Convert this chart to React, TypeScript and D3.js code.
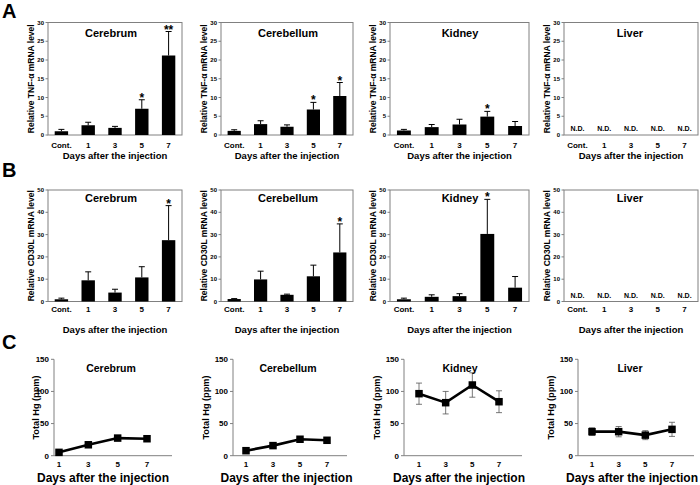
import * as d3 from "d3";
import * as React from "react";

const FONT = "'Liberation Sans', Arial, Helvetica, sans-serif";

const categories = ["Cont.", "1", "3", "5", "7"];
const days = ["1", "3", "5", "7"];
const tissues = ["Cerebrum", "Cerebellum", "Kidney", "Liver"];

// A: relative TNF-α mRNA
const tnfCerebrum = [1.0, 2.6, 1.9, 7.0, 21.2];
const tnfCerebrumErr = [0.5, 0.8, 0.4, 2.4, 6.4];
const tnfCerebrumSig = ["", "", "", "*", "**"];
const tnfCerebellum = [1.1, 2.9, 2.2, 6.8, 10.4];
const tnfCerebellumErr = [0.3, 0.9, 0.5, 1.9, 3.6];
const tnfCerebellumSig = ["", "", "", "*", "*"];
const tnfKidney = [1.2, 2.1, 2.8, 4.9, 2.4];
const tnfKidneyErr = [0.3, 0.7, 1.4, 1.4, 1.2];
const tnfKidneySig = ["", "", "", "*", ""];
const tnfLiver: (number | null)[] = [null, null, null, null, null];

// B: relative CD30L mRNA
const cd30Cerebrum = [1.0, 9.5, 4.0, 10.8, 27.5];
const cd30CerebrumErr = [0.5, 3.8, 1.5, 4.8, 15.5];
const cd30CerebrumSig = ["", "", "", "", "*"];
const cd30Cerebellum = [1.1, 9.9, 3.0, 11.3, 22.0];
const cd30CerebellumErr = [0.2, 3.7, 0.3, 5.0, 12.8];
const cd30CerebellumSig = ["", "", "", "", "*"];
const cd30Kidney = [1.0, 2.1, 2.4, 30.3, 6.2];
const cd30KidneyErr = [0.5, 0.9, 1.1, 15.5, 5.0];
const cd30KidneySig = ["", "", "", "*", ""];
const cd30Liver: (number | null)[] = [null, null, null, null, null];

// C: total Hg (ppm)
const hgCerebrum = [5.2, 17.0, 27.4, 26.4];
const hgCerebrumErr = [1.5, 2.0, 3.0, 2.0];
const hgCerebellum = [7.8, 15.7, 25.6, 24.0];
const hgCerebellumErr = [1.5, 2.0, 3.0, 2.0];
const hgKidney = [96.5, 82.5, 110, 84];
const hgKidneyErr = [16.5, 17.5, 19, 17];
const hgLiver = [37.4, 37.4, 32, 41];
const hgLiverErr = [6, 8, 7, 11];

const tnfTicks = [0, 5, 10, 15, 20, 25, 30];
const cd30Ticks = [0, 10, 20, 30, 40, 50];
const hgTicks = [0, 50, 100, 150];

// layout
const colLeft = [48, 221, 390, 564];
const colRight = [182, 353, 529, 698];
const titleX = [111, 288, 460, 630];
const cAxis = [54, 233, 404, 578];
const cFirst = [59, 246, 419, 592];
const cLast = [147, 327, 499, 672];
const cEnd = [172, 347, 522, 694];
const cLabelX = [36, 206, 377, 551];

const GRAY = "#808080";

interface BarRow {
  top: number;
  bottom: number;
  ticks: number[];
  yLabel: string;
  tickDy: number;
  titleDy: number;
  xTitleDy: number;
}

function BarPanel({
  col,
  row,
  values,
  errors,
  sig,
}: {
  col: number;
  row: BarRow;
  values: (number | null)[];
  errors?: number[];
  sig?: string[];
}) {
  const left = colLeft[col];
  const right = colRight[col];
  const { top, bottom, ticks } = row;
  const x = d3.scaleBand(categories, [left, right]).paddingInner(0.5).paddingOuter(0.25);
  const y = d3.scaleLinear([0, ticks[ticks.length - 1]], [bottom, top]);
  const bw = x.bandwidth();
  return (
    <g fontFamily={FONT} fontWeight="bold">
      <rect x={left} y={top} width={right - left} height={bottom - top} fill="none" stroke={GRAY} strokeWidth={1} />
      {ticks.map((t) => (
        <g key={t}>
          <line x1={left - 2.5} x2={left} y1={y(t)} y2={y(t)} stroke={GRAY} />
          <text x={left - 4} y={y(t)} dy="0.35em" fontSize={6} textAnchor="end">
            {t}
          </text>
        </g>
      ))}
      {values.map((v, i) => {
        const cx = (x(categories[i]) ?? 0) + bw / 2;
        if (v == null) {
          return (
            <text key={i} x={cx} y={bottom - 4} fontSize={7} textAnchor="middle">
              N.D.
            </text>
          );
        }
        const e = errors ? errors[i] : 0;
        const yt = y(v + e);
        return (
          <g key={i}>
            <line x1={cx} x2={cx} y1={y(v)} y2={yt} stroke="#000" strokeWidth={1} />
            <line x1={cx - 3} x2={cx + 3} y1={yt} y2={yt} stroke="#000" strokeWidth={1} />
            <rect x={cx - bw / 2} y={y(v)} width={bw} height={bottom - y(v)} fill="#000" />
            {sig && sig[i] ? (
              <text x={cx} y={yt + 2} fontSize={12} textAnchor="middle">
                {sig[i]}
              </text>
            ) : null}
          </g>
        );
      })}
      {categories.map((c) => (
        <text key={c} x={(x(c) ?? 0) + bw / 2} y={bottom + row.tickDy} fontSize={8} textAnchor="middle">
          {c}
        </text>
      ))}
      <text x={(left + right) / 2} y={bottom + row.xTitleDy} fontSize={9.5} textAnchor="middle">
        Days after the injection
      </text>
      <text x={titleX[col]} y={top + row.titleDy} fontSize={11} textAnchor="middle">
        {tissues[col]}
      </text>
      <text
        transform={`translate(${left - 17},${(top + bottom) / 2}) rotate(-90)`}
        dy="0.35em"
        fontSize={8.5}
        textAnchor="middle"
      >
        {row.yLabel}
      </text>
    </g>
  );
}

function LinePanel({ col, values, errors }: { col: number; values: number[]; errors: number[] }) {
  const top = 359.3;
  const bottom = 455.7;
  const x = d3.scalePoint(days, [cFirst[col], cLast[col]]);
  const y = d3.scaleLinear([0, 150], [bottom, top]);
  const line = d3
    .line<number>()
    .x((_, i) => x(days[i]) ?? 0)
    .y((d) => y(d));
  const ax = cAxis[col];
  const m = 7.5;
  return (
    <g fontFamily={FONT} fontWeight="bold">
      <line x1={ax} x2={ax} y1={top} y2={bottom} stroke={GRAY} />
      <line x1={ax} x2={cEnd[col]} y1={bottom} y2={bottom} stroke={GRAY} />
      {hgTicks.map((t) => (
        <g key={t}>
          <line x1={ax - 3} x2={ax} y1={y(t)} y2={y(t)} stroke={GRAY} />
          <text x={ax - 5} y={y(t)} dy="0.35em" fontSize={8} textAnchor="end">
            {t}
          </text>
        </g>
      ))}
      {values.map((v, i) => {
        const cx = x(days[i]) ?? 0;
        const e = errors[i];
        return (
          <g key={i} stroke="#555" strokeWidth={0.8}>
            <line x1={cx} x2={cx} y1={y(v + e)} y2={y(v - e)} />
            <line x1={cx - 3} x2={cx + 3} y1={y(v + e)} y2={y(v + e)} />
            <line x1={cx - 3} x2={cx + 3} y1={y(v - e)} y2={y(v - e)} />
          </g>
        );
      })}
      <path d={line(values) ?? ""} fill="none" stroke="#000" strokeWidth={2.6} />
      {values.map((v, i) => (
        <rect key={i} x={(x(days[i]) ?? 0) - m / 2} y={y(v) - m / 2} width={m} height={m} fill="#000" />
      ))}
      {days.map((d) => (
        <text key={d} x={x(d) ?? 0} y={467} fontSize={8} textAnchor="middle">
          {d}
        </text>
      ))}
      <text x={(cFirst[col] + cLast[col]) / 2} y={482} fontSize={12} textAnchor="middle">
        Days after the injection
      </text>
      <text x={titleX[col]} y={372} fontSize={10.5} fontWeight="bold" textAnchor="middle">
        {tissues[col]}
      </text>
      <text
        transform={`translate(${cLabelX[col]},${(top + bottom) / 2}) rotate(-90)`}
        dy="0.35em"
        fontSize={9.2}
        textAnchor="middle"
      >
        Total Hg (ppm)
      </text>
    </g>
  );
}

const rowA: BarRow = {
  top: 22.5,
  bottom: 135,
  ticks: tnfTicks,
  yLabel: "Relative TNF-α mRNA level",
  tickDy: 13,
  titleDy: 14.5,
  xTitleDy: 24,
};

const rowB: BarRow = {
  top: 190,
  bottom: 301.5,
  ticks: cd30Ticks,
  yLabel: "Relative CD30L mRNA level",
  tickDy: 10.5,
  titleDy: 12,
  xTitleDy: 31.5,
};

export default function App() {
  return (
    <svg
      width={700}
      height={485}
      viewBox="0 0 700 485"
      style={{ position: "absolute", left: 0, top: 0, background: "#fff" }}
    >
      <rect width={700} height={485} fill="#fff" />
      <g fontFamily={FONT} fontWeight="bold" fontSize={20}>
        <text x={2} y={18}>A</text>
        <text x={2} y={177}>B</text>
        <text x={2} y={349}>C</text>
      </g>

      <BarPanel col={0} row={rowA} values={tnfCerebrum} errors={tnfCerebrumErr} sig={tnfCerebrumSig} />
      <BarPanel col={1} row={rowA} values={tnfCerebellum} errors={tnfCerebellumErr} sig={tnfCerebellumSig} />
      <BarPanel col={2} row={rowA} values={tnfKidney} errors={tnfKidneyErr} sig={tnfKidneySig} />
      <BarPanel col={3} row={rowA} values={tnfLiver} />

      <BarPanel col={0} row={rowB} values={cd30Cerebrum} errors={cd30CerebrumErr} sig={cd30CerebrumSig} />
      <BarPanel col={1} row={rowB} values={cd30Cerebellum} errors={cd30CerebellumErr} sig={cd30CerebellumSig} />
      <BarPanel col={2} row={rowB} values={cd30Kidney} errors={cd30KidneyErr} sig={cd30KidneySig} />
      <BarPanel col={3} row={rowB} values={cd30Liver} />

      <LinePanel col={0} values={hgCerebrum} errors={hgCerebrumErr} />
      <LinePanel col={1} values={hgCerebellum} errors={hgCerebellumErr} />
      <LinePanel col={2} values={hgKidney} errors={hgKidneyErr} />
      <LinePanel col={3} values={hgLiver} errors={hgLiverErr} />
    </svg>
  );
}
